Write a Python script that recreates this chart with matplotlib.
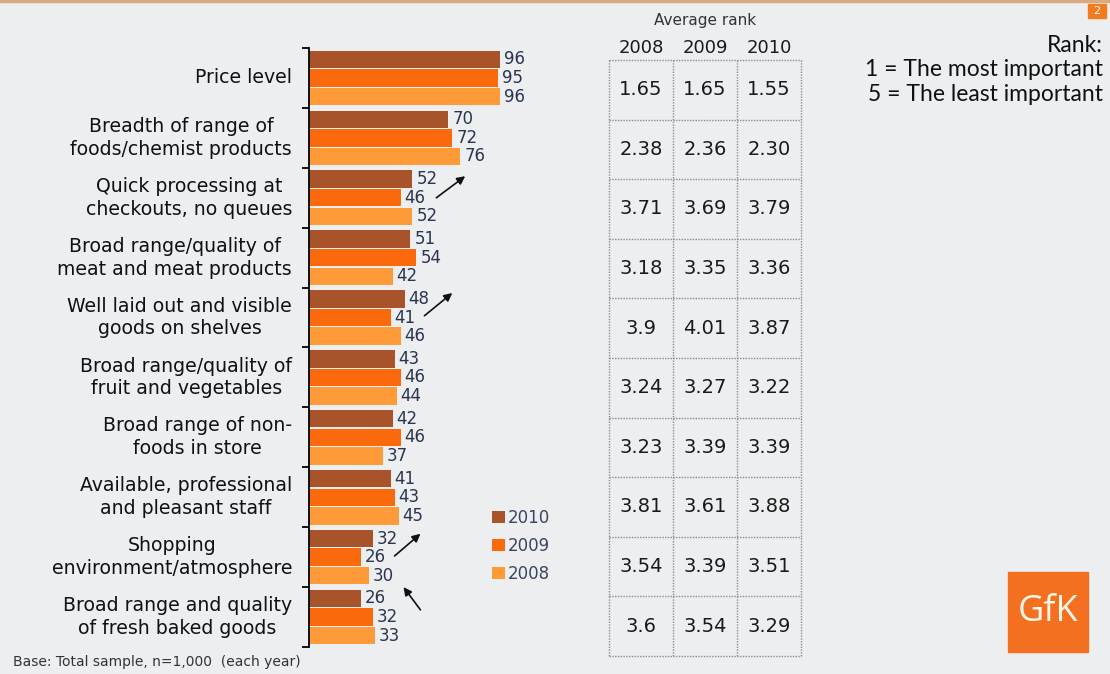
import numpy as np
import matplotlib
matplotlib.use('Agg')
import matplotlib.pyplot as plt
from matplotlib.patches import Rectangle
from matplotlib.lines import Line2D

# data
categories = ['Price level',
              'Breadth of range of\nfoods/chemist products',
              'Quick processing at\ncheckouts, no queues',
              'Broad range/quality of\nmeat and meat products',
              'Well laid out and visible\ngoods on shelves',
              'Broad range/quality of\nfruit and vegetables',
              'Broad range of non-\nfoods in store',
              'Available, professional\nand pleasant staff',
              'Shopping\nenvironment/atmosphere',
              'Broad range and quality\nof fresh baked goods']
years = ['2010', '2009', '2008']
vals_2010 = [96, 70, 52, 51, 48, 43, 42, 41, 32, 26]
vals_2009 = [95, 72, 46, 54, 41, 46, 46, 43, 26, 32]
vals_2008 = [96, 76, 52, 42, 46, 44, 37, 45, 30, 33]

table_years = ['2008', '2009', '2010']
rank_2008 = ['1.65', '2.38', '3.71', '3.18', '3.9', '3.24', '3.23', '3.81', '3.54', '3.6']
rank_2009 = ['1.65', '2.36', '3.69', '3.35', '4.01', '3.27', '3.39', '3.61', '3.39', '3.54']
rank_2010 = ['1.55', '2.30', '3.79', '3.36', '3.87', '3.22', '3.39', '3.88', '3.51', '3.29']

colors = ['#A9532B', '#FA6A0C', '#FF9A38']
bg = '#ECEEF0'
W, H = 1110, 674


def fx(px):
    return px / W


def fy(py):
    return 1 - py / H


fig = plt.figure(figsize=(W / 100, H / 100), dpi=100, facecolor=bg)

# top line and page number box
fig.add_artist(Line2D([0, 1], [fy(1), fy(1)], color='#D8AC80', lw=2.5))
fig.add_artist(Rectangle((fx(1088), fy(18)), fx(18), 14 / H, color='#F47A20'))
fig.text(fx(1097), fy(11), '2', color='white', fontsize=8, ha='center', va='center')

# bar chart
ax = fig.add_axes([fx(309), fy(647), fx(508) - fx(309), 599 / H])
ax.set_facecolor('none')
y = np.arange(len(categories))
offs = [-0.31, 0, 0.31]
series = [vals_2010, vals_2009, vals_2008]
for k in range(3):
    bars = ax.barh(y + offs[k], series[k], height=0.29, color=colors[k], label=years[k])
    for b, v in zip(bars, series[k]):
        ax.text(v + 2.0, b.get_y() + b.get_height() / 2, str(v), fontsize=12,
                color='#2A3550', va='center', ha='left')

ax.set_xlim(0, 100)
ax.set_ylim(len(categories) - 0.5, -0.5)
for s in ['top', 'right', 'bottom']:
    ax.spines[s].set_visible(False)
ax.spines['left'].set_linewidth(1.3)
ax.set_xticks([])
ax.set_yticks(np.arange(len(categories) + 1) - 0.5)
ax.set_yticklabels([])
ax.tick_params(axis='y', length=5, width=1.3)

for i, c in enumerate(categories):
    ax.text(-0.085, i, c, transform=ax.get_yaxis_transform(), ha='right', va='center',
            multialignment='center', fontsize=13.6, color='#111111', linespacing=1.25)

# arrows (group, start x, start dy, end x, end dy)
arrows = [(2, 64, 0.0, 78.5, -0.36), (4, 58, -0.03, 72, -0.41),
          (8, 43, -0.02, 56, -0.39), (9, 56, -0.12, 47.5, -0.5)]
for g, x0, dy0, x1, dy1 in arrows:
    ax.annotate('', xy=(x1, g + dy1), xytext=(x0, g + dy0),
                arrowprops=dict(arrowstyle='-|>', color='#111111', lw=1.2,
                                mutation_scale=12, shrinkA=0, shrinkB=0),
                annotation_clip=False)

ax.legend(loc='upper left', bbox_to_anchor=(fx(492), fy(509)),
          bbox_transform=fig.transFigure, frameon=False, fontsize=12,
          labelcolor='#3A4560', handlelength=0.75, handleheight=0.75,
          handletextpad=0.2, labelspacing=0.6, borderpad=0, borderaxespad=0)

# table of average ranks
tx = fig.add_axes([fx(609), fy(656), fx(801) - fx(609), 596 / H])
tx.set_facecolor('none')
tx.set_xlim(0, 3)
tx.set_ylim(len(categories), 0)
tx.axis('off')
for j in range(4):
    tx.plot([j, j], [0, len(categories)], color='#8A8A8A', lw=1.0, ls=(0, (1, 1)),
            clip_on=False)
for i in range(len(categories) + 1):
    tx.plot([0, 3], [i, i], color='#8A8A8A', lw=1.0, ls=(0, (1, 1)), clip_on=False)
ranks = [rank_2008, rank_2009, rank_2010]
for j in range(3):
    for i in range(len(categories)):
        tx.text(j + 0.5, i + 0.5, ranks[j][i], ha='center', va='center',
                fontsize=14, color='#1A1A1A')
    tx.text(j + 0.5, -0.2, table_years[j], ha='center', va='center', fontsize=13,
            color='#1A1A1A')
fig.text(fx(705), fy(20), 'Average rank', ha='center', va='center', fontsize=11,
         color='#333333', family='Liberation Sans Narrow')

# rank note
fig.text(fx(1103), fy(70), 'Rank:\n1 = The most important\n5 = The least important',
         ha='right', va='center', fontsize=16.5, color='#111111', family='Lato',
         linespacing=1.2)

# logo
fig.add_artist(Rectangle((fx(1008), fy(652)), fx(80), 80 / H, color='#F37021'))
fig.text(fx(1048), fy(612), 'GfK', ha='center', va='center', fontsize=26,
         color='#FFF6E8', family='Open Sans')

fig.text(fx(13), fy(662), 'Base: Total sample, n=1,000  (each year)', ha='left',
         va='center', fontsize=10, color='#333333')

fig.savefig('out.png', dpi=100, facecolor=bg)
